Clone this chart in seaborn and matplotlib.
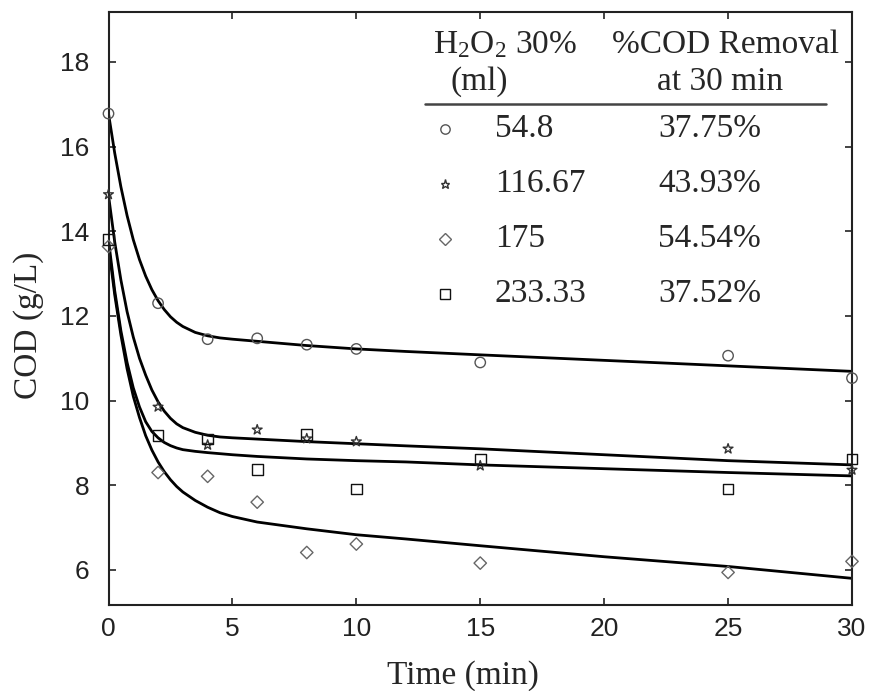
import matplotlib
matplotlib.use("Agg")
import matplotlib.pyplot as plt
import seaborn as sns

# --- dados ---
t_obs = [0, 2, 4, 6, 8, 10, 15, 25, 30]
cod_548 = [16.78, 12.30, 11.45, 11.47, 11.32, 11.22, 10.90, 11.06, 10.53]
cod_11667 = [14.87, 9.85, 8.95, 9.31, 9.10, 9.03, 8.46, 8.86, 8.36]
cod_175 = [13.64, 8.30, 8.21, 7.60, 6.41, 6.61, 6.16, 5.94, 6.20]
cod_23333 = [13.80, 9.17, 9.09, 8.38, 9.19, 7.91, 8.62, 7.91, 8.62]

# curvas ajustadas (lidas ponto a ponto no grafico)
t_fit = [0, 0.25, 0.5, 0.75, 1, 1.25, 1.5, 1.75, 2, 2.25, 2.5, 2.75, 3, 3.5, 4, 4.5, 5,
         6, 7, 8, 10, 12, 15, 20, 25, 30]
fit_548 = [16.78, 15.85, 15.05, 14.37, 13.80, 13.33, 12.94, 12.62, 12.36, 12.15, 11.98,
           11.85, 11.75, 11.61, 11.53, 11.48, 11.45,
           11.40, 11.35, 11.30, 11.22, 11.16, 11.08, 10.95, 10.82, 10.69]
fit_11667 = [14.85, 13.75, 12.85, 12.10, 11.50, 11.00, 10.60, 10.25, 9.97, 9.75, 9.58,
             9.45, 9.36, 9.25, 9.18, 9.14, 9.12,
             9.09, 9.06, 9.03, 8.98, 8.93, 8.86, 8.72, 8.58, 8.48]
fit_175 = [13.65, 12.50, 11.55, 10.75, 10.10, 9.60, 9.17, 8.83, 8.55, 8.32, 8.13,
           7.97, 7.84, 7.64, 7.48, 7.35, 7.26,
           7.13, 7.05, 6.97, 6.83, 6.73, 6.57, 6.31, 6.08, 5.80]
fit_23333 = [13.80, 12.60, 11.65, 10.90, 10.30, 9.85, 9.50, 9.27, 9.12, 9.01, 8.935,
             8.88, 8.84, 8.80, 8.77, 8.745, 8.72,
             8.68, 8.65, 8.62, 8.58, 8.55, 8.48, 8.39, 8.30, 8.22]

h2o2_labels = ["54.8", "116.67", "175", "233.33"]
removal_labels = ["37.75%", "43.93%", "54.54%", "37.52%"]

x_ticks = [0, 5, 10, 15, 20, 25, 30]
y_ticks = [6, 8, 10, 12, 14, 16, 18]

# --- estilo ---
sns.set_style("ticks")
plt.rcParams["font.family"] = ["Liberation Serif", "DejaVu Serif"]
plt.rcParams["mathtext.default"] = "regular"
tick_font = ["Liberation Sans Narrow", "Liberation Sans", "DejaVu Sans"]

W, H = 872, 691
fig = plt.figure(figsize=(W / 100, H / 100), dpi=100)
ax = fig.add_axes([108.5 / W, 1 - 605 / H, (852 - 108.5) / W, (605 - 12) / H])

series = [
    (cod_548, fit_548, "o", "#555555", 56),
    (cod_11667, fit_11667, "*", "#333333", 55),
    (cod_175, fit_175, "D", "#666666", 40),
    (cod_23333, fit_23333, "s", "#111111", 60),
]

for obs, fit, mk, col, size in series:
    sns.lineplot(x=t_fit, y=fit, color="black", lw=2, ax=ax, sort=False)
    sns.scatterplot(x=t_obs, y=obs, marker=mk, s=size, facecolors="none",
                    edgecolor=col, linewidth=1.0, ax=ax, clip_on=False, zorder=3)

ax.set_xlim(0, 30)
ax.set_ylim(5.17, 19.18)
ax.set_xticks(x_ticks)
ax.set_yticks(y_ticks)
for sp in ax.spines.values():
    sp.set_visible(True)
    sp.set_linewidth(1.5)
    sp.set_color("#222222")
ax.tick_params(direction="in", length=5, width=1.2, top=True, right=True,
               labelsize=19, colors="#222222")
ax.tick_params(axis="y", pad=14)
ax.tick_params(axis="x", pad=9)
for lab in ax.get_xticklabels() + ax.get_yticklabels():
    lab.set_family(tick_font)

ax.set_xlabel("Time (min)", fontsize=24, va="baseline")
ax.xaxis.set_label_coords((463 - 108.5) / 743.5, -(684 - 605) / 593)
ax.set_ylabel("COD (g/L)", fontsize=24, va="center")
ax.yaxis.set_label_coords((29 - 108.5) / 743.5, (605 - 325) / 593)

# --- legenda em forma de tabela ---
def fx(px):
    return px / W

def fy(py):
    return 1 - py / H

fig.text(fx(433), fy(53), "H$_2$O$_2$ 30%", fontsize=24, va="baseline")
fig.text(fx(450), fy(90), "(ml)", fontsize=24, va="baseline")
fig.text(fx(726), fy(53), "%COD Removal", fontsize=24, va="baseline", ha="center")
fig.text(fx(720), fy(90), "at 30 min", fontsize=24, va="baseline", ha="center")
fig.add_artist(plt.Line2D([fx(425), fx(826)], [fy(104), fy(104)], color="#444444",
                          lw=1.8, transform=fig.transFigure))

row_y = [129, 184, 239, 294]
for i, (_, _, mk, col, size) in enumerate(series):
    fig.add_artist(plt.Line2D([fx(445)], [fy(row_y[i])], marker=mk, ls="none",
                              markersize=size ** 0.5 * 0.9, markerfacecolor="none",
                              markeredgecolor=col, markeredgewidth=1.0,
                              transform=fig.transFigure))
    fig.text(fx(495), fy(row_y[i]), h2o2_labels[i], fontsize=24, va="center")
    fig.text(fx(658), fy(row_y[i]), removal_labels[i], fontsize=24, va="center")

fig.savefig("out.png", dpi=100)
